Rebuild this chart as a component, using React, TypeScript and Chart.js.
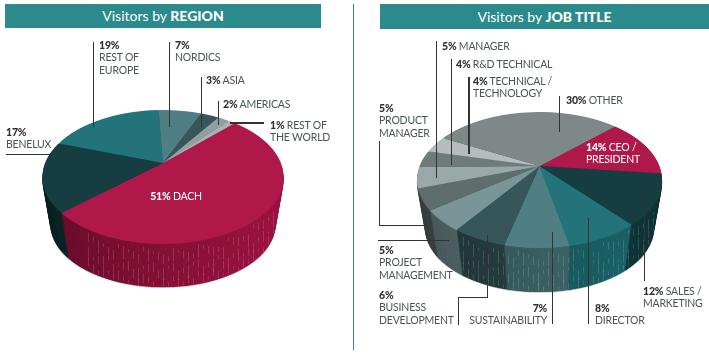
import React, { useEffect, useRef } from "react";
import { Chart, registerables } from "chart.js";

Chart.register(...registerables);

const regionNames = ["DACH", "Benelux", "Rest of Europe", "Nordics", "Asia", "Americas", "Rest of the World"];
const regionValues = [51, 17, 19, 7, 3, 2, 1];
const regionColors = ["#B0184A", "#163E42", "#22737A", "#4F7F84", "#37565A", "#8F9FA2", "#A9B4B6"];

const jobNames = ["CEO / President", "Sales / Marketing", "Director", "Sustainability", "Business Development", "Project Management", "Product Manager", "Manager", "R&D Technical", "Technical / Technology", "Other"];
const jobValues = [14, 12, 8, 7, 6, 5, 5, 5, 4, 4, 30];
const jobColors = ["#B0184A", "#163E42", "#22737A", "#4F7F84", "#37565A", "#7A9597", "#5E6E6C", "#9AA8AA", "#6F7B7B", "#B5BCBF", "#7F8888"];

type Geo = { cx: number; cy: number; rx: number; ryTop: number; ryBot: number; depth: number; shrink: number };

const shade = (hex: string, f: number) => {
  const n = parseInt(hex.slice(1), 16);
  const c = (v: number) => Math.round(v * f);
  return `rgb(${c((n >> 16) & 255)},${c((n >> 8) & 255)},${c(n & 255)})`;
};

const pie3d = {
  id: "pie3d",
  beforeDatasetsDraw(chart: any, _a: any, opts: Geo) {
    const { ctx, canvas } = chart;
    const arcs = chart.getDatasetMeta(0).data;
    if (!arcs.length) return false;
    const R = arcs[0].outerRadius;
    const ax = arcs[0].x;
    const ay = arcs[0].y;
    const { cx, cy, rx, ryTop, ryBot, depth, shrink } = opts;
    const W = canvas.width;
    const H = canvas.height;
    const colors: string[] = chart.data.datasets[0].backgroundColor;

    // perspective of a tilted disc, derived from the rim's extents about the hub
    const kappa = (ryBot - ryTop) / (ryBot + ryTop);
    const a = ryTop * (1 + kappa);
    const X = rx * Math.sqrt(1 - kappa * kappa);

    const paintFace = (target: CanvasRenderingContext2D, fills: any[]) => {
      for (let row = Math.floor(cy - ryTop) - 1; row <= cy + ryBot + 1; row++) {
        const dy = row + 0.5 - cy;
        const den = a + kappa * dy;
        const v = dy / den;
        const m = X / (1 - kappa * v);
        const d = a / (den * den);
        target.save();
        target.beginPath();
        target.rect(0, row, W, 1);
        target.clip();
        target.translate(cx, row + 0.5);
        target.scale(m / R, 1 / (d * R));
        target.translate(-ax, -(ay + v * R));
        arcs.forEach((arc: any, i: number) => {
          const proxy = Object.create(arc);
          proxy.options = { ...arc.options, backgroundColor: fills[i], borderWidth: 0 };
          arc.draw.call(proxy, target);
        });
        target.restore();
      }
    };

    // wall: a darker copy of the face stacked downward
    const off = document.createElement("canvas");
    off.width = W;
    off.height = H;
    const octx = off.getContext("2d")!;
    const sideFills = colors.map((c) => {
      const g = octx.createLinearGradient(ax - R, 0, ax + R, 0);
      g.addColorStop(0, shade(c, 0.58));
      g.addColorStop(1, shade(c, 0.92));
      return g;
    });
    paintFace(octx, sideFills);
    for (let k = depth; k >= 1; k -= 0.5) {
      const s = 1 - (1 - shrink) * (k / depth);
      ctx.save();
      ctx.translate(cx, cy + k);
      ctx.scale(s, s);
      ctx.translate(-cx, -cy);
      ctx.drawImage(off, 0, 0);
      ctx.restore();
    }

    // hatch on the wall
    const rimMid = (ryBot - ryTop) / 2;
    const rimRy = (ryBot + ryTop) / 2;
    const rows = [0.08, 0.42, 0.7];
    const lens = [0.22, 0.12, 0.3, 0.08, 0.18];
    ctx.save();
    ctx.strokeStyle = "rgba(255,255,255,0.14)";
    ctx.lineWidth = 1;
    let n = 0;
    for (let x = cx - rx * 0.62; x < cx + rx * 0.95; x += 5, n++) {
      const u = (x - cx) / rx;
      const top = cy + rimMid + rimRy * Math.sqrt(1 - u * u);
      const ub = Math.min(0.999, (x - cx) / (rx * shrink));
      const bot = cy + depth + shrink * (rimMid + rimRy * Math.sqrt(1 - ub * ub));
      const h = bot - top;
      const px = Math.floor(x) + 0.5;
      ctx.beginPath();
      rows.forEach((r, j) => {
        const st = top + h * (r + (n * (j + 2) * 0.13) % 0.22);
        const l = lens[(n + j * 2) % lens.length] * h;
        ctx.moveTo(px, Math.min(st, bot - 1));
        ctx.lineTo(px, Math.min(st + l, bot - 1));
      });
      ctx.stroke();
    }
    ctx.restore();

    paintFace(ctx, colors);
    return false;
  },
};

function Pie({ left, labels, values, colors, rotation, geo }: { left: number; labels: string[]; values: number[]; colors: string[]; rotation: number; geo: Geo }) {
  const ref = useRef<HTMLCanvasElement>(null);
  useEffect(() => {
    const chart = new Chart(ref.current!, {
      type: "pie",
      data: { labels, datasets: [{ data: values, backgroundColor: colors, borderWidth: 0 }] },
      options: {
        animation: false,
        responsive: false,
        rotation,
        events: [],
        plugins: { legend: { display: false }, tooltip: { enabled: false }, pie3d: geo } as any,
      },
      plugins: [pie3d],
    });
    return () => chart.destroy();
  }, []);
  return <canvas ref={ref} width={354} height={354} style={{ position: "absolute", left, top: 0, width: 354, height: 354 }} />;
}

type L = { x: number; y: number; t: [string, string][]; white?: boolean; right?: boolean; center?: boolean };
// each line: [bold part, regular part]
const texts: L[] = [
  { x: 99, y: 45, t: [["19%", ""], ["", "REST OF"], ["", "EUROPE"]] },
  { x: 175, y: 45, t: [["7%", ""], ["", "NORDICS"]] },
  { x: 206, y: 80, t: [["3%", " ASIA"]] },
  { x: 223, y: 104, t: [["2%", " AMERICAS"]] },
  { x: 270, y: 125, t: [["1%", " REST OF"], ["", "THE WORLD"]] },
  { x: 6, y: 132, t: [["17%", ""], ["", "BENELUX"]] },
  { x: 176, y: 196, center: true, white: true, t: [["51%", " DACH"]] },
  { x: 442, y: 46, t: [["5%", " MANAGER"]] },
  { x: 456, y: 64, t: [["4%", " R&D TECHNICAL"]] },
  { x: 473, y: 81, t: [["4%", " TECHNICAL /"], ["", "TECHNOLOGY"]] },
  { x: 566, y: 100, t: [["30%", " OTHER"]] },
  { x: 586, y: 147, white: true, t: [["14%", " CEO /"], ["", "PRESIDENT"]] },
  { x: 379, y: 108, t: [["5%", ""], ["", "PRODUCT"], ["", "MANAGER"]] },
  { x: 379, y: 250, t: [["5%", ""], ["", "PROJECT"], ["", "MANAGEMENT"]] },
  { x: 379, y: 295, t: [["6%", ""], ["", "BUSINESS"], ["", "DEVELOPMENT"]] },
  { x: 547, y: 308, right: true, t: [["7%", ""], ["", "SUSTAINABILITY"]] },
  { x: 595, y: 308, t: [["8%", ""], ["", "DIRECTOR"]] },
  { x: 643, y: 291, t: [["12%", " SALES /"], ["", "MARKETING"]] },
];

// leader segments: x, y, width, height
const leaders: [number, number, number, number][] = [
  [93, 42, 1, 85], [169, 42, 1, 85], [201, 77, 1, 50], [218, 101, 1, 24], [230, 122, 34, 2], [6, 154, 72, 1],
  [436, 41, 1, 137], [451, 59, 1, 106], [468, 77, 2, 77], [559, 96, 1, 36],
  [379, 141, 1, 84], [379, 225, 49, 1], [378, 240, 71, 1],
  [458, 297, 1, 28], [458, 297, 30, 1], [487, 235, 1, 62],
  [552, 232, 1, 92], [588, 218, 1, 106], [644, 187, 1, 94],
];

const FONT = "Lato, sans-serif";

export default function App() {
  return (
    <div style={{ position: "absolute", left: 0, top: 0, width: 709, height: 354, background: "#fff", overflow: "hidden", fontFamily: FONT }}>
      <div style={{ position: "absolute", left: 5, top: 4, width: 316, height: 24, background: "#2A8A8C", color: "#fff", fontSize: 14, lineHeight: "24px", textAlign: "center" }}>
        Visitors by <b style={{ fontWeight: 900 }}>REGION</b>
      </div>
      <div style={{ position: "absolute", left: 380, top: 4, width: 329, height: 25, background: "#2A8A8C", color: "#fff", fontSize: 14, lineHeight: "25px", textAlign: "center" }}>
        Visitors by <b style={{ fontWeight: 900 }}>JOB TITLE</b>
      </div>
      <div style={{ position: "absolute", left: 353, top: 4, width: 1, height: 346, background: "#3A8A8C" }} />
      <Pie left={0} labels={regionNames} values={regionValues} colors={regionColors} rotation={44.3}
        geo={{ cx: 163, cy: 163, rx: 120.5, ryTop: 53, ryBot: 81, depth: 49, shrink: 0.93 }} />
      <Pie left={355} labels={jobNames} values={jobValues} colors={jobColors} rotation={46}
        geo={{ cx: 184.5, cy: 166, rx: 122.5, ryTop: 54, ryBot: 82, depth: 50, shrink: 0.93 }} />
      {leaders.map(([x, y, w, h], i) => (
        <div key={i} style={{ position: "absolute", left: x, top: y, width: w, height: h, background: "#333" }} />
      ))}
      {texts.map((l, i) => (
        <div key={i} style={{
          position: "absolute",
          left: l.right ? undefined : l.x,
          right: l.right ? 709 - l.x : undefined,
          top: l.y - 6.5,
          transform: l.center ? "translateX(-50%)" : undefined,
          textAlign: l.right ? "right" : "left",
          fontSize: 10.5,
          letterSpacing: "-0.2px",
          lineHeight: "12.5px",
          whiteSpace: "pre",
          color: l.white ? "#fff" : "#4a5358",
        }}>
          {l.t.map(([b, r], j) => (
            <div key={j}>
              {b && <b style={{ fontWeight: 900, color: l.white ? "#fff" : "#2f2f2f" }}>{b}</b>}
              {r}
            </div>
          ))}
        </div>
      ))}
    </div>
  );
}
